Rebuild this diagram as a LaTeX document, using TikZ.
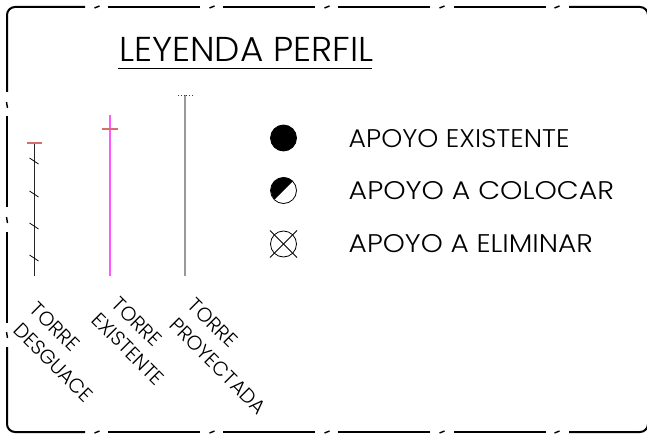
\documentclass[tikz,border=0pt]{standalone}
\usepackage{fontspec}
\setmainfont{Poppins}[UprightFont=* Light]
\usetikzlibrary{positioning}
\definecolor{barred}{RGB}{214,110,110}
\definecolor{polemagenta}{RGB}{255,90,255}

\begin{document}
\begin{tikzpicture}[
x=1pt, y=-1pt,
framepart/.style={line width=2pt, black},
framedot/.style={line width=1.4pt, black},
polebar/.style={line width=1.4pt, barred},
tickmark/.style={line width=0.8pt, black},
legendtext/.style={font=\fontsize{25.5}{26}\selectfont, anchor=west, inner sep=0pt},
poletext/.style={font=\fontsize{20}{20}\selectfont, rotate=-45, inner sep=0pt},
apoyo/.style={circle, draw, line width=0.8pt, minimum size=26pt, inner sep=0pt},
]
\useasboundingbox (0,0) rectangle (647,441);

%Frame
\draw[framepart, rounded corners=8pt] (85,7) -- (7,7) -- (7,92);
\draw[framepart] (7,116) -- (7,207);
\draw[framepart] (7,232) -- (7,323);
\draw[framepart, rounded corners=8pt] (7,347) -- (7,432) -- (85,432);
\foreach \x in {108,223,338,454} {
  \draw[framepart] (\x,7) -- (\x+92,7);
  \draw[framepart] (\x,432) -- (\x+92,432);
}
\draw[framepart, rounded corners=8pt] (569,7) -- (648,7) -- (648,30);
\draw[framepart, rounded corners=8pt] (569,432) -- (648,432) -- (648,410);
\foreach \x in {97,212,327,442,557} {
  \draw[framedot] (\x-2.5,8) -- (\x+2.5,6);
  \draw[framedot] (\x-2.5,433) -- (\x+2.5,431);
}
\foreach \y in {105,220,335} {
  \draw[framedot] (6.5,\y-3) -- (7.5,\y+3);
}

%Nodes
\node[font=\fontsize{34.5}{35}\selectfont, anchor=base west, inner sep=0pt, xscale=1.037] (titulo) at (119,62) {LEYENDA PERFIL};

\coordinate (d0) at (34,143);
\coordinate (d1) at (34,276);
\coordinate (e0) at (110,115);
\coordinate (e1) at (110,276);
\coordinate (p0) at (185,95.5);
\coordinate (p1) at (185,276);

\node[apoyo, fill=black] (a1) at (283.5,138) {};
\node[apoyo]             (a2) at (283.5,190.5) {};
\node[apoyo]             (a3) at (283.5,244) {};

\node[legendtext, xscale=1.05] (t1) at (348.5,138.5) {APOYO EXISTENTE};
\node[legendtext, xscale=1.115] (t2) at (348.5,191) {APOYO A COLOCAR};
\node[legendtext, xscale=1.10] (t3) at (348.5,243.5) {APOYO A ELIMINAR};

\node[poletext] (d2) at (55,327) {TORRE};
\node[poletext] (d3) at (53.5,362.5) {DESGUACE};
\node[poletext] (e2) at (137,322) {TORRE};
\node[poletext] (e3) at (128,349) {EXISTENTE};
\node[poletext] (p2) at (213,323) {TORRE};
\node[poletext] (p3) at (218,366) {PROYECTADA};

%Lines
\draw[line width=1pt] (118,69) -- (372,69);

\draw[line width=1pt, black!85] (d0) -- (d1);
\draw[line width=1.4pt, polemagenta] (e0) -- (e1);
\draw[line width=1.2pt, black!40] (p0) -- (p1);

\draw[polebar] (27,143) -- (42,143);
\draw[polebar] (102,129) -- (118,129);
\draw[line width=0.8pt, red!75!black, dotted] (178,95.5) -- (193,95.5);

\foreach \y in {161,194,226,258} {
  \draw[tickmark] (29.5,\y-3) -- (38.5,\y+3);
}

\fill (a2.45) arc[start angle=-45, end angle=-225, radius=13] -- cycle;
\draw[line width=0.8pt] (a3.center) ++(-13.5,-13.5) -- ++(27,27);
\draw[line width=0.8pt] (a3.center) ++(13.5,-13.5) -- ++(-27,27);
\end{tikzpicture}
\end{document}
